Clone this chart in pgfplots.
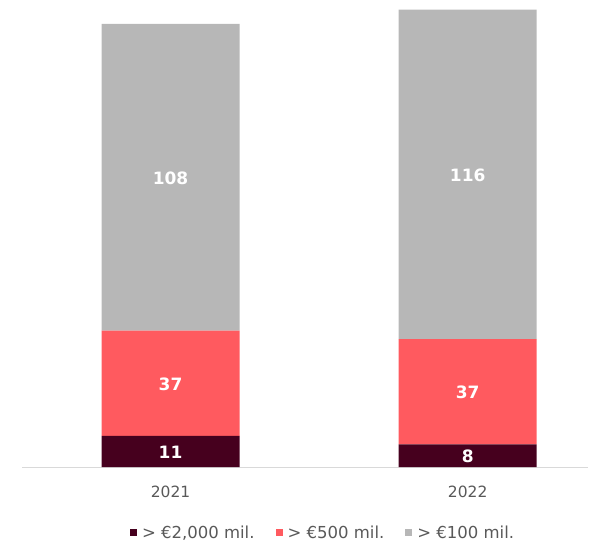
\documentclass[border=0pt]{standalone}
\usepackage{pgfplots}
\pgfplotsset{compat=1.18}
\usepackage{fontspec}
\setmainfont{DejaVu Sans}
\definecolor{cdark}{HTML}{46001E}
\definecolor{cred}{HTML}{FF5A5F}
\definecolor{cgray}{HTML}{B7B7B7}
\definecolor{ctext}{HTML}{595959}
\definecolor{caxis}{HTML}{D9D9D9}
\begin{document}
\begin{tikzpicture}
\path[use as bounding box] (-22pt,-77pt) rectangle (567pt,467pt);
\begin{axis}[
  scale only axis,
  width=566pt,
  y=2.8406pt,
  ymin=0, ymax=164.4,
  xmin=-0.5, xmax=1.405,
  ybar stacked,
  bar width=138pt,
  axis x line=bottom,
  axis y line=none,
  axis line style={caxis, line width=1pt, -},
  xtick=data,
  xticklabels={2021,2022},
  major tick length=0pt,
  xticklabel style={font=\fontsize{15.5}{18}\selectfont, text=ctext, yshift=-15pt},
  /pgf/number format/assume math mode=true,
  point meta=rawy,
  nodes near coords,
  every node near coord/.append style={anchor=center, yshift=-1pt, text=white, font=\fontsize{17}{18}\selectfont\bfseries},
  legend style={draw=none, at={(0.532,-0.141)}, anchor=center, legend columns=3,
    font=\fontsize{16.5}{18}\selectfont, text=ctext,
    /tikz/every even column/.append style={column sep=19pt}},
  legend image code/.code={\fill[#1] (0pt,-3.5pt) rectangle (7pt,3.5pt); \path (10pt,0pt);},
]
\addplot[fill=cdark, draw=none] coordinates {(0,11) (1,8)};
\addlegendentry{> €2,000 mil.}
\addplot[fill=cred, draw=none] coordinates {(0,37) (1,37)};
\addlegendentry{> €500 mil.}
\addplot[fill=cgray, draw=none] coordinates {(0,108) (1,116)};
\addlegendentry{> €100 mil.}
\end{axis}
\end{tikzpicture}
\end{document}
